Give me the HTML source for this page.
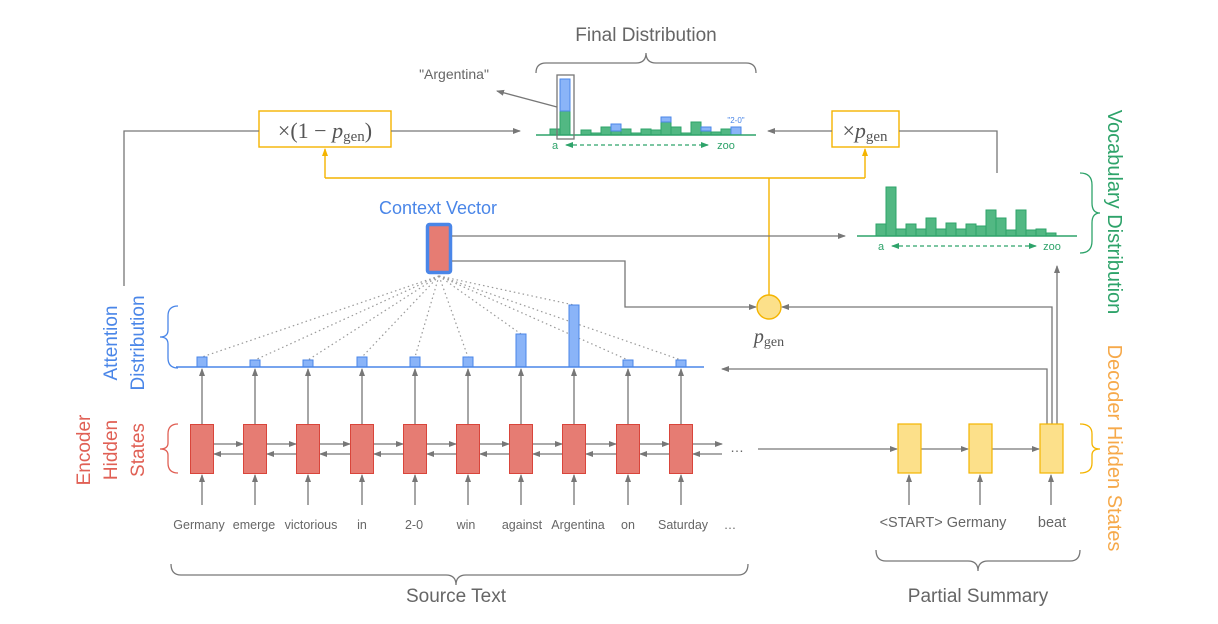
<!DOCTYPE html>
<html><head><meta charset="utf-8"><style>
html,body{margin:0;padding:0;background:#fff;}
svg{display:block;}
text{font-family:"Liberation Sans",sans-serif;}
.m{font-family:"Liberation Serif",serif;}
</style></head><body>
<svg width="1218" height="624" viewBox="0 0 1218 624" xmlns="http://www.w3.org/2000/svg">
<defs>
<marker id="ag" markerWidth="8" markerHeight="8" refX="7" refY="4" orient="auto" markerUnits="userSpaceOnUse"><path d="M0,1 L8,4 L0,7 z" fill="#777"/></marker>
<marker id="ay" markerWidth="8" markerHeight="8" refX="7" refY="4" orient="auto" markerUnits="userSpaceOnUse"><path d="M0,1 L8,4 L0,7 z" fill="#f4b400"/></marker>
<marker id="agr" markerWidth="8" markerHeight="8" refX="7" refY="4" orient="auto-start-reverse" markerUnits="userSpaceOnUse"><path d="M0,1 L8,4 L0,7 z" fill="#2ea36a"/></marker>
</defs>

<!-- Final distribution -->
<text x="646" y="41" font-size="19" fill="#666" text-anchor="middle">Final Distribution</text>
<path d="M536,73 Q536,63 546,63 L636,63 Q646,63 646,53 Q646,63 656,63 L746,63 Q756,63 756,73" fill="none" stroke="#777" stroke-width="1.3"/>
<g fill="#52b883" stroke="#2ea36a" stroke-width="1">
<rect x="550" y="129" width="10" height="6"/>
<rect x="560" y="111" width="10" height="24"/>
<rect x="581" y="130" width="10" height="5"/>
<rect x="591" y="133" width="10" height="2"/>
<rect x="601" y="127" width="10" height="8"/>
<rect x="611" y="131" width="10" height="4"/>
<rect x="621" y="129" width="10" height="6"/>
<rect x="631" y="133" width="10" height="2"/>
<rect x="641" y="129" width="10" height="6"/>
<rect x="651" y="130" width="10" height="5"/>
<rect x="661" y="122" width="10" height="13"/>
<rect x="671" y="127" width="10" height="8"/>
<rect x="681" y="133" width="10" height="2"/>
<rect x="691" y="122" width="10" height="13"/>
<rect x="701" y="131" width="10" height="4"/>
<rect x="711" y="132" width="10" height="3"/>
<rect x="721" y="129" width="10" height="6"/>
</g>
<g fill="#8ab4f8" stroke="#4a86e8" stroke-width="1">
<rect x="560" y="79" width="10" height="32"/>
<rect x="611" y="124" width="10" height="7"/>
<rect x="661" y="117" width="10" height="5"/>
<rect x="701" y="127" width="10" height="4"/>
<rect x="731" y="127" width="10" height="8"/>
</g>
<line x1="536" y1="135" x2="756" y2="135" stroke="#2ea36a" stroke-width="1.5"/>
<rect x="557" y="75" width="17" height="64" fill="none" stroke="#777" stroke-width="1.3"/>
<text x="736" y="123" font-size="8" fill="#4a86e8" text-anchor="middle">"2-0"</text>
<text x="555" y="149" font-size="11" fill="#2ea36a" text-anchor="middle">a</text>
<line x1="566" y1="145" x2="708" y2="145" stroke="#2ea36a" stroke-width="1.2" stroke-dasharray="4,3" marker-start="url(#agr)" marker-end="url(#agr)"/>
<text x="726" y="149" font-size="11" fill="#2ea36a" text-anchor="middle">zoo</text>
<text x="454" y="79" font-size="14" fill="#666" text-anchor="middle">"Argentina"</text>
<line x1="557" y1="107" x2="497" y2="91" stroke="#777" stroke-width="1.3" marker-end="url(#ag)"/>

<!-- multipliers -->
<rect x="259" y="111" width="132" height="36" fill="#fff" stroke="#f4b400" stroke-width="1.4"/>
<text x="325" y="138" class="m" font-size="22" fill="#555" text-anchor="middle">×(1 − <tspan font-style="italic">p</tspan><tspan font-size="15" dy="3">gen</tspan><tspan dy="-3">)</tspan></text>
<rect x="832" y="111" width="67" height="36" fill="#fff" stroke="#f4b400" stroke-width="1.4"/>
<text x="865" y="138" class="m" font-size="22" fill="#555" text-anchor="middle">×<tspan font-style="italic">p</tspan><tspan font-size="15" dy="3">gen</tspan></text>
<polyline points="124,286 124,131 259,131" fill="none" stroke="#777" stroke-width="1.3"/>
<line x1="391" y1="131" x2="520" y2="131" stroke="#777" stroke-width="1.3" marker-end="url(#ag)"/>
<line x1="832" y1="131" x2="768" y2="131" stroke="#777" stroke-width="1.3" marker-end="url(#ag)"/>
<polyline points="899,131 997,131 997,173" fill="none" stroke="#777" stroke-width="1.3"/>
<polyline points="769,295 769,178" fill="none" stroke="#f4b400" stroke-width="1.4"/>
<polyline points="325,178 865,178" fill="none" stroke="#f4b400" stroke-width="1.4"/>
<line x1="325" y1="178" x2="325" y2="149" stroke="#f4b400" stroke-width="1.4" marker-end="url(#ay)"/>
<line x1="865" y1="178" x2="865" y2="149" stroke="#f4b400" stroke-width="1.4" marker-end="url(#ay)"/>

<!-- vocab dist -->
<g fill="#52b883" stroke="#2ea36a" stroke-width="1">
<rect x="876" y="224" width="10" height="12"/><rect x="886" y="187" width="10" height="49"/>
<rect x="896" y="229" width="10" height="7"/><rect x="906" y="224" width="10" height="12"/>
<rect x="916" y="229" width="10" height="7"/><rect x="926" y="218" width="10" height="18"/>
<rect x="936" y="229" width="10" height="7"/><rect x="946" y="223" width="10" height="13"/>
<rect x="956" y="229" width="10" height="7"/><rect x="966" y="224" width="10" height="12"/>
<rect x="976" y="226" width="10" height="10"/><rect x="986" y="210" width="10" height="26"/>
<rect x="996" y="218" width="10" height="18"/><rect x="1006" y="230" width="10" height="6"/>
<rect x="1016" y="210" width="10" height="26"/><rect x="1026" y="230" width="10" height="6"/>
<rect x="1036" y="229" width="10" height="7"/><rect x="1046" y="233" width="10" height="3"/>
</g>
<line x1="857" y1="236" x2="1077" y2="236" stroke="#2ea36a" stroke-width="1.5"/>
<text x="881" y="250" font-size="11" fill="#2ea36a" text-anchor="middle">a</text>
<line x1="892" y1="246" x2="1036" y2="246" stroke="#2ea36a" stroke-width="1.2" stroke-dasharray="4,3" marker-start="url(#agr)" marker-end="url(#agr)"/>
<text x="1052" y="250" font-size="11" fill="#2ea36a" text-anchor="middle">zoo</text>
<path d="M1080,173 Q1092,173 1092,185 L1092,203 Q1092,213 1100,213 Q1092,213 1092,223 L1092,241 Q1092,253 1080,253" fill="none" stroke="#2ea36a" stroke-width="1.3"/>
<text transform="translate(1108,212) rotate(90)" font-size="20" fill="#2ea36a" text-anchor="middle">Vocabulary Distribution</text>
<path d="M1080,424 Q1092,424 1092,434 L1092,443 Q1092,449 1100,449 Q1092,449 1092,455 L1092,463 Q1092,473 1080,473" fill="none" stroke="#f4b400" stroke-width="1.3"/>
<text transform="translate(1108,448) rotate(90)" font-size="20" fill="#f6a94a" text-anchor="middle">Decoder Hidden States</text>

<!-- context vector -->
<text x="438" y="214" font-size="18" fill="#4a86e8" text-anchor="middle">Context Vector</text>
<rect x="427.5" y="224.5" width="23" height="48" rx="2" fill="#e67c73" stroke="#4a86e8" stroke-width="3.5"/>
<line x1="452" y1="236" x2="845" y2="236" stroke="#777" stroke-width="1.3" marker-end="url(#ag)"/>
<polyline points="452,261 625,261 625,307 756,307" fill="none" stroke="#777" stroke-width="1.3" marker-end="url(#ag)"/>
<circle cx="769" cy="307" r="12" fill="#fce08a" stroke="#f4b400" stroke-width="1.4"/>
<text x="769" y="343" class="m" font-size="20" fill="#555" text-anchor="middle"><tspan font-style="italic">p</tspan><tspan font-size="14" dy="3">gen</tspan></text>

<!-- attention -->
<g stroke="#999" stroke-width="1.2" stroke-dasharray="1.5,3" fill="none">
<line x1="439" y1="276" x2="202" y2="357"/><line x1="439" y1="276" x2="255" y2="360"/>
<line x1="439" y1="276" x2="308" y2="360"/><line x1="439" y1="276" x2="362" y2="357"/>
<line x1="439" y1="276" x2="415" y2="357"/><line x1="439" y1="276" x2="468" y2="357"/>
<line x1="439" y1="276" x2="521" y2="334"/><line x1="439" y1="276" x2="574" y2="305"/>
<line x1="439" y1="276" x2="628" y2="360"/><line x1="439" y1="276" x2="681" y2="360"/>
</g>
<path d="M178,306 Q168,306 168,316 L168,330 Q168,337 160,337 Q168,337 168,344 L168,358 Q168,368 178,368" fill="none" stroke="#4a86e8" stroke-width="1.3"/>
<text transform="translate(117,343) rotate(-90)" font-size="19" fill="#4a86e8" text-anchor="middle">Attention</text>
<text transform="translate(144,343) rotate(-90)" font-size="19" fill="#4a86e8" text-anchor="middle">Distribution</text>
<path d="M178,424 Q168,424 168,434 L168,443 Q168,449 160,449 Q168,449 168,455 L168,463 Q168,473 178,473" fill="none" stroke="#e06055" stroke-width="1.3"/>
<text transform="translate(90,450) rotate(-90)" font-size="19" fill="#e06055" text-anchor="middle">Encoder</text>
<text transform="translate(117,450) rotate(-90)" font-size="19" fill="#e06055" text-anchor="middle">Hidden</text>
<text transform="translate(144,450) rotate(-90)" font-size="19" fill="#e06055" text-anchor="middle">States</text>

<g fill="#8ab4f8" stroke="#4a86e8" stroke-width="1">
<rect x="197" y="357" width="10" height="10"/><rect x="250" y="360" width="10" height="7"/>
<rect x="303" y="360" width="10" height="7"/><rect x="357" y="357" width="10" height="10"/>
<rect x="410" y="357" width="10" height="10"/><rect x="463" y="357" width="10" height="10"/>
<rect x="516" y="334" width="10" height="33"/><rect x="569" y="305" width="10" height="62"/>
<rect x="623" y="360" width="10" height="7"/><rect x="676" y="360" width="10" height="7"/>
</g>
<line x1="176" y1="367" x2="704" y2="367" stroke="#4a86e8" stroke-width="1.5"/>

<!-- encoder -->
<g id="enc">
<g stroke="#777" stroke-width="1.3" fill="none">
<line x1="202" y1="424" x2="202" y2="369" marker-end="url(#ag)"/><line x1="255" y1="424" x2="255" y2="369" marker-end="url(#ag)"/>
<line x1="308" y1="424" x2="308" y2="369" marker-end="url(#ag)"/><line x1="362" y1="424" x2="362" y2="369" marker-end="url(#ag)"/>
<line x1="415" y1="424" x2="415" y2="369" marker-end="url(#ag)"/><line x1="468" y1="424" x2="468" y2="369" marker-end="url(#ag)"/>
<line x1="521" y1="424" x2="521" y2="369" marker-end="url(#ag)"/><line x1="574" y1="424" x2="574" y2="369" marker-end="url(#ag)"/>
<line x1="628" y1="424" x2="628" y2="369" marker-end="url(#ag)"/><line x1="681" y1="424" x2="681" y2="369" marker-end="url(#ag)"/>
<line x1="202" y1="505" x2="202" y2="475" marker-end="url(#ag)"/><line x1="255" y1="505" x2="255" y2="475" marker-end="url(#ag)"/>
<line x1="308" y1="505" x2="308" y2="475" marker-end="url(#ag)"/><line x1="362" y1="505" x2="362" y2="475" marker-end="url(#ag)"/>
<line x1="415" y1="505" x2="415" y2="475" marker-end="url(#ag)"/><line x1="468" y1="505" x2="468" y2="475" marker-end="url(#ag)"/>
<line x1="521" y1="505" x2="521" y2="475" marker-end="url(#ag)"/><line x1="574" y1="505" x2="574" y2="475" marker-end="url(#ag)"/>
<line x1="628" y1="505" x2="628" y2="475" marker-end="url(#ag)"/><line x1="681" y1="505" x2="681" y2="475" marker-end="url(#ag)"/>
<line x1="213" y1="444" x2="243" y2="444" marker-end="url(#ag)"/><line x1="266" y1="444" x2="296" y2="444" marker-end="url(#ag)"/>
<line x1="319" y1="444" x2="350" y2="444" marker-end="url(#ag)"/><line x1="373" y1="444" x2="403" y2="444" marker-end="url(#ag)"/>
<line x1="426" y1="444" x2="456" y2="444" marker-end="url(#ag)"/><line x1="479" y1="444" x2="509" y2="444" marker-end="url(#ag)"/>
<line x1="532" y1="444" x2="562" y2="444" marker-end="url(#ag)"/><line x1="585" y1="444" x2="616" y2="444" marker-end="url(#ag)"/>
<line x1="639" y1="444" x2="669" y2="444" marker-end="url(#ag)"/><line x1="692" y1="444" x2="722" y2="444" marker-end="url(#ag)"/>
<line x1="243" y1="454" x2="214" y2="454" marker-end="url(#ag)"/><line x1="296" y1="454" x2="267" y2="454" marker-end="url(#ag)"/>
<line x1="350" y1="454" x2="320" y2="454" marker-end="url(#ag)"/><line x1="403" y1="454" x2="374" y2="454" marker-end="url(#ag)"/>
<line x1="456" y1="454" x2="427" y2="454" marker-end="url(#ag)"/><line x1="509" y1="454" x2="480" y2="454" marker-end="url(#ag)"/>
<line x1="562" y1="454" x2="533" y2="454" marker-end="url(#ag)"/><line x1="616" y1="454" x2="586" y2="454" marker-end="url(#ag)"/>
<line x1="669" y1="454" x2="640" y2="454" marker-end="url(#ag)"/><line x1="722" y1="454" x2="693" y2="454" marker-end="url(#ag)"/>
</g>
<g fill="#e67c73" stroke="#d9453b" stroke-width="1">
<rect x="190.5" y="424.5" width="23" height="49"/><rect x="243.5" y="424.5" width="23" height="49"/>
<rect x="296.5" y="424.5" width="23" height="49"/><rect x="350.5" y="424.5" width="23" height="49"/>
<rect x="403.5" y="424.5" width="23" height="49"/><rect x="456.5" y="424.5" width="23" height="49"/>
<rect x="509.5" y="424.5" width="23" height="49"/><rect x="562.5" y="424.5" width="23" height="49"/>
<rect x="616.5" y="424.5" width="23" height="49"/><rect x="669.5" y="424.5" width="23" height="49"/>
</g>
</g>
<text x="737" y="452" font-size="14" fill="#666" text-anchor="middle">…</text>

<g font-size="12.5" fill="#666" text-anchor="middle">
<text x="199" y="529">Germany</text><text x="254" y="529">emerge</text><text x="311" y="529">victorious</text>
<text x="362" y="529">in</text><text x="414" y="529">2-0</text><text x="466" y="529">win</text>
<text x="522" y="529">against</text><text x="578" y="529">Argentina</text><text x="628" y="529">on</text>
<text x="683" y="529">Saturday</text><text x="730" y="529">…</text>
</g>
<path d="M171,564 Q171,575 181,575 L446,575 Q456,575 456,585 Q456,575 466,575 L738,575 Q748,575 748,564" fill="none" stroke="#777" stroke-width="1.3"/>
<text x="456" y="602" font-size="19" fill="#666" text-anchor="middle">Source Text</text>

<!-- decoder -->
<g stroke="#777" stroke-width="1.3" fill="none">
<line x1="758" y1="449" x2="897" y2="449" marker-end="url(#ag)"/>
<line x1="921" y1="449" x2="968" y2="449" marker-end="url(#ag)"/>
<line x1="992" y1="449" x2="1039" y2="449" marker-end="url(#ag)"/>
<line x1="909" y1="505" x2="909" y2="475" marker-end="url(#ag)"/>
<line x1="980" y1="505" x2="980" y2="475" marker-end="url(#ag)"/>
<line x1="1051" y1="505" x2="1051" y2="475" marker-end="url(#ag)"/>
<polyline points="1047,424 1047,369 722,369" marker-end="url(#ag)"/>
<polyline points="1052,424 1052,307 782,307" marker-end="url(#ag)"/>
<line x1="1057" y1="424" x2="1057" y2="266" marker-end="url(#ag)"/>
</g>
<g fill="#fce08a" stroke="#f4b400" stroke-width="1.2">
<rect x="898" y="424" width="23" height="49"/><rect x="969" y="424" width="23" height="49"/><rect x="1040" y="424" width="23" height="49"/>
</g>
<g font-size="14.5" fill="#666" text-anchor="middle">
<text x="943" y="527">&lt;START&gt; Germany</text><text x="1052" y="527">beat</text>
</g>
<path d="M876,550 Q876,561 886,561 L968,561 Q978,561 978,571 Q978,561 988,561 L1070,561 Q1080,561 1080,550" fill="none" stroke="#777" stroke-width="1.3"/>
<text x="978" y="602" font-size="19" fill="#666" text-anchor="middle">Partial Summary</text>
</svg>
</body></html>
